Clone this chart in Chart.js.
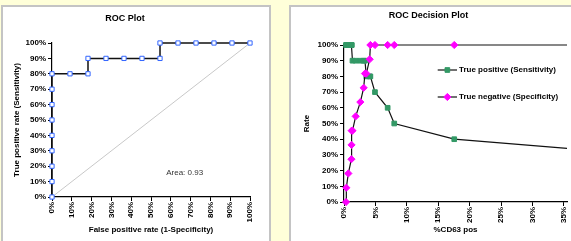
<!DOCTYPE html>
<html>
<head>
<meta charset="utf-8">
<script src="https://cdn.jsdelivr.net/npm/chart.js@4/dist/chart.umd.min.js"></script>
<style>
  html, body { margin:0; padding:0; }
  body { width:571px; height:241px; overflow:hidden; position:relative; background:#FFFFD9; }
  .panel { position:absolute; background:#fff; border:2px solid #C4C4C4; box-sizing:border-box; }
  canvas { position:absolute; top:0; }
</style>
</head>
<body>
<div class="panel" style="left:1px;top:5px;width:270px;height:300px;"></div>
<div class="panel" style="left:289px;top:5px;width:400px;height:300px;"></div>
<canvas id="roc" width="274" height="241" style="left:0px;"></canvas>
<canvas id="dec" width="302" height="241" style="left:290px;"></canvas>
<script>
// ---- ROC Plot data ----
const rocFpr = [0,0,0,0,0,0,0,0,0,9.09,18.18,18.18,27.27,36.36,45.45,54.55,54.55,63.64,72.73,81.82,90.91,100];
const rocTpr = [0,10,20,30,40,50,60,70,80,80,80,90,90,90,90,90,100,100,100,100,100,100];
const diagX = [0,100];
const diagY = [0,100];
const areaLabel = 'Area: 0.93';
const rocTicks = [0,10,20,30,40,50,60,70,80,90,100];

// ---- ROC Decision Plot data ----
const cd63Cutoff  = [0.32,0.37,0.69,1.18,1.2,1.22,1.35,1.86,2.6,3.13,3.34,3.55,4.09,4.2,4.93,6.95,8.0,17.55,48.2];
const sensitivity = [100,100,100,100,100,100,90,90,90,90,90,80,80,80,70,60,50,40,30];
const specificity = [0,9.09,18.18,27.27,36.36,45.45,45.45,54.55,63.64,72.73,81.82,81.82,90.91,100,100,100,100,100,100];
const decisionTicksX = [0,5,10,15,20,25,30,35];
const seriesLabels = ['True positive (Sensitivity)','True negative (Specificity)'];

Chart.defaults.font.family = "'Liberation Sans', Arial, sans-serif";
Chart.defaults.font.size = 8;
Chart.defaults.font.weight = 'bold';
Chart.defaults.color = '#000';
Chart.defaults.animation = false;

const pct = v => v + '%';
const zip = (xs, ys) => xs.map((x,i) => ({x, y: ys[i]}));

function axisCommon(extra) {
  return Object.assign({
    type: 'linear',
    grid: { display: true, drawOnChartArea: false, color: '#000', tickLength: 4, tickWidth: 1 },
    border: { display: true, color: '#000', width: 1.2 },
  }, extra);
}

// ---- Left chart ----
const areaPlugin = {
  id: 'areaText',
  afterDatasetsDraw(chart) {
    const {ctx, scales: {x, y}} = chart;
    ctx.save();
    ctx.font = "8px 'Liberation Sans', Arial, sans-serif";
    ctx.fillStyle = '#333';
    ctx.textAlign = 'center';
    ctx.textBaseline = 'middle';
    ctx.fillText(areaLabel, x.getPixelForValue(67), y.getPixelForValue(15.5));
    ctx.restore();
  }
};

new Chart(document.getElementById('roc'), {
  type: 'scatter',
  data: {
    datasets: [
      { data: zip(rocFpr, rocTpr), showLine: true, borderColor: '#111', borderWidth: 1.5,
        pointStyle: 'rect', pointRadius: 3, pointBackgroundColor: '#fff', pointBorderColor: '#3366FF',
        pointBorderWidth: 1, clip: false, order: 0 },
      { data: zip(diagX, diagY), showLine: true, borderColor: '#C8C8C8', borderWidth: 1,
        pointRadius: 0, clip: false, order: 1 }
    ]
  },
  options: {
    responsive: false,
    layout: { padding: { left: 0, top: 0, right: 24, bottom: 0 } },
    plugins: {
      legend: { display: false }, tooltip: { enabled: false },
      title: { display: true, text: 'ROC Plot', font: { size: 9, weight: 'bold' }, color: '#000',
               padding: { top: 13.6, bottom: 18.6 } }
    },
    scales: {
      x: axisCommon({ min: 0, max: 100,
        afterFit(s) { s.height = 44; },
        afterBuildTicks(s) { s.ticks = rocTicks.map(v => ({value: v})); },
        ticks: { callback: pct, minRotation: 90, maxRotation: 90, padding: 1, autoSkip: false },
        title: { display: true, text: 'False positive rate (1-Specificity)', font: { size: 8, weight: 'bold' }, padding: { top: 0, bottom: 6.2 } }
      }),
      y: axisCommon({ min: 0, max: 100,
        afterFit(s) { s.width = 52; },
        afterBuildTicks(s) { s.ticks = rocTicks.map(v => ({value: v})); },
        ticks: { callback: pct, padding: 2 },
        title: { display: true, text: 'True positive rate (Sensitivity)', font: { size: 8, weight: 'bold' }, padding: { top: 12.2, bottom: 0 } }
      })
    }
  },
  plugins: [areaPlugin]
});

// ---- Right chart ----
const legendPlugin = {
  id: 'innerLegend',
  afterDraw(chart) {
    const {ctx, chartArea} = chart;
    const x0 = chartArea.left + 93.7, x1 = chartArea.left + 113;
    const rows = [chartArea.top + 25, chartArea.top + 52];
    ctx.save();
    seriesLabels.forEach((label, i) => {
      const ds = chart.data.datasets[i];
      const yy = rows[i];
      ctx.strokeStyle = '#111'; ctx.lineWidth = 1.2;
      ctx.beginPath(); ctx.moveTo(x0, yy); ctx.lineTo(x1, yy); ctx.stroke();
      ctx.fillStyle = ds.pointBackgroundColor; ctx.strokeStyle = ds.pointBorderColor; ctx.lineWidth = 1;
      Chart.helpers.drawPoint(ctx, {pointStyle: ds.pointStyle, radius: ds.pointRadius, borderWidth: 1}, (x0 + x1) / 2, yy);
      ctx.fillStyle = '#000';
      ctx.font = "bold 8px 'Liberation Sans', Arial, sans-serif";
      ctx.textAlign = 'left'; ctx.textBaseline = 'middle';
      ctx.fillText(label, x1 + 2, yy);
    });
    ctx.restore();
  }
};

new Chart(document.getElementById('dec'), {
  type: 'scatter',
  data: {
    datasets: [
      { data: zip(cd63Cutoff, sensitivity), showLine: true, borderColor: '#111', borderWidth: 1.2,
        pointStyle: 'rect', pointRadius: 3.3, pointBackgroundColor: '#339966', pointBorderColor: '#339966',
        pointBorderWidth: 1, clip: {left: 8, top: 8, right: 0, bottom: 8}, order: 1 },
      { data: zip(cd63Cutoff, specificity), showLine: true, borderColor: '#111', borderWidth: 1.2,
        pointStyle: 'rectRot', pointRadius: 3.6, pointBackgroundColor: '#FF00FF', pointBorderColor: '#FF00FF',
        pointBorderWidth: 1, clip: {left: 8, top: 8, right: 0, bottom: 8}, order: 0 }
    ]
  },
  options: {
    responsive: false,
    layout: { padding: { left: 0, top: 0, right: 25, bottom: 0 } },
    plugins: {
      legend: { display: false }, tooltip: { enabled: false },
      title: { display: true, text: 'ROC Decision Plot', font: { size: 9, weight: 'bold' }, color: '#000',
               padding: { top: 10.6, bottom: 23.6 } }
    },
    scales: {
      x: axisCommon({ min: 0, max: 35.5,
        afterFit(s) { s.height = 39; },
        afterBuildTicks(s) { s.ticks = decisionTicksX.map(v => ({value: v})); },
        ticks: { callback: pct, minRotation: 90, maxRotation: 90, padding: 1, autoSkip: false, includeBounds: false },
        title: { display: true, text: '%CD63 pos', font: { size: 8, weight: 'bold' }, padding: { top: 0, bottom: 6.2 } }
      }),
      y: axisCommon({ min: 0, max: 100,
        afterFit(s) { s.width = 54; },
        afterBuildTicks(s) { s.ticks = rocTicks.map(v => ({value: v})); },
        ticks: { callback: pct, padding: 2 },
        title: { display: true, text: 'Rate', font: { size: 8, weight: 'bold' }, padding: { top: 12.2, bottom: 0 } }
      })
    }
  },
  plugins: [legendPlugin]
});
</script>
</body>
</html>
